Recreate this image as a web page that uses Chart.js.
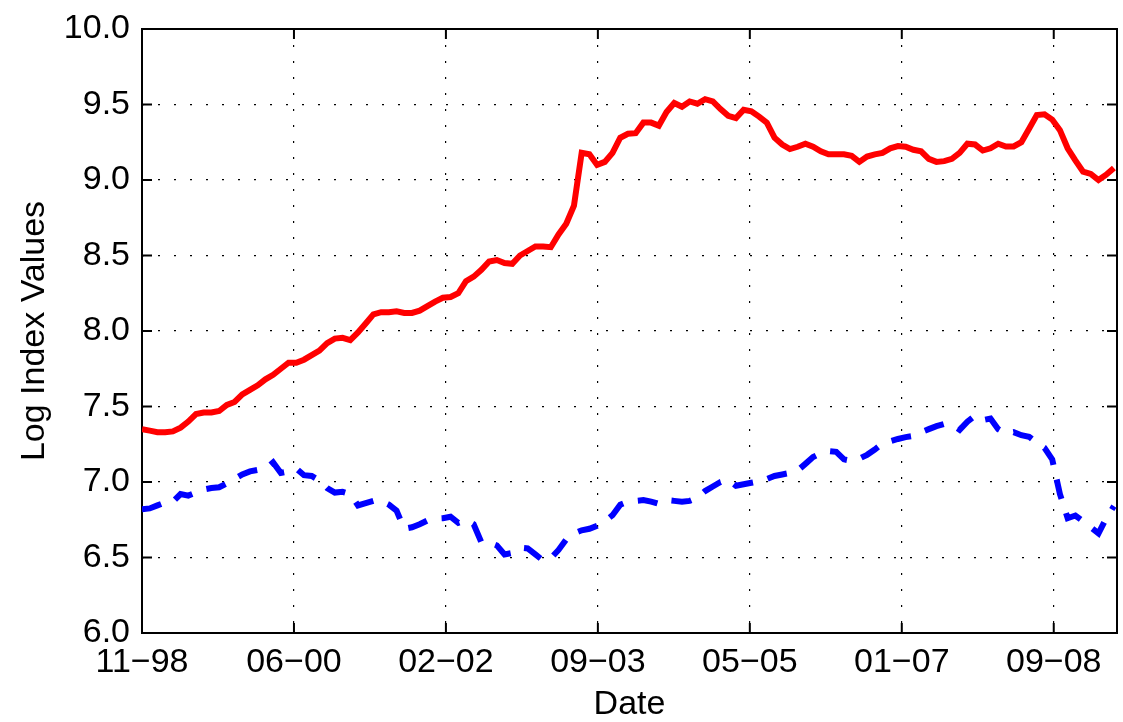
<!DOCTYPE html>
<html>
<head>
<meta charset="utf-8">
<script src="https://cdn.jsdelivr.net/npm/chart.js@4"></script>
<style>
  html, body { margin: 0; padding: 0; background: #fff; }
</style>
</head>
<body>
<canvas id="grafica" width="1123" height="722"></canvas>
<script>
// date tick labels (mm-yy), spaced evenly along the month axis
const tickLabels = ['11\u221298', '06\u221200', '02\u221202', '09\u221203', '05\u221205', '01\u221207', '09\u221208'];

// monthly log index values, Nov 1998 onwards
const logRed = [
  7.35, 7.34, 7.33, 7.33, 7.335, 7.36, 7.40, 7.45, 7.46, 7.46,
  7.47, 7.51, 7.53, 7.58, 7.61, 7.64, 7.68, 7.71, 7.75, 7.79,
  7.79, 7.81, 7.84, 7.87, 7.92, 7.95, 7.955, 7.94, 7.99, 8.05,
  8.11, 8.125, 8.125, 8.13, 8.12, 8.12, 8.135, 8.165, 8.195, 8.22,
  8.225, 8.25, 8.33, 8.36, 8.405, 8.46, 8.47, 8.45, 8.445, 8.50,
  8.53, 8.56, 8.56, 8.555, 8.64, 8.71, 8.83, 9.18, 9.17, 9.10,
  9.12, 9.18, 9.28, 9.306, 9.31, 9.38, 9.38, 9.36, 9.45, 9.51,
  9.485, 9.52, 9.505, 9.535, 9.52, 9.47, 9.425, 9.41, 9.465, 9.455,
  9.42, 9.38, 9.28, 9.235, 9.205, 9.22, 9.24, 9.22, 9.19, 9.17,
  9.17, 9.17, 9.16, 9.12, 9.155, 9.17, 9.18, 9.21, 9.225, 9.22,
  9.20, 9.19, 9.14, 9.12, 9.125, 9.14, 9.18, 9.24, 9.235, 9.195,
  9.21, 9.24, 9.222, 9.222, 9.25, 9.34, 9.43, 9.435, 9.40, 9.33,
  9.21, 9.13, 9.055, 9.04, 9.00, 9.035, 9.08
];

const logBlue = [
  6.82, 6.825, 6.845, 6.865, 6.87, 6.92, 6.91, 6.93, 6.95, 6.96,
  6.965, 6.99, 7.02, 7.05, 7.07, 7.08, 7.085, 7.13, 7.06, 7.07,
  7.09, 7.045, 7.04, 7.01, 6.96, 6.93, 6.935, 6.92, 6.845, 6.86,
  6.875, 6.875, 6.85, 6.81, 6.69, 6.70, 6.72, 6.745, 6.757, 6.76,
  6.77, 6.73, 6.75, 6.72, 6.60, 6.60, 6.58, 6.52, 6.53, 6.565,
  6.56, 6.52, 6.48, 6.495, 6.55, 6.62, 6.66, 6.68, 6.69, 6.71,
  6.74, 6.78, 6.85, 6.87, 6.875, 6.88, 6.87, 6.855, 6.88, 6.875,
  6.87, 6.875, 6.895, 6.94, 6.97, 7.00, 7.015, 6.975, 6.985, 6.995,
  7.005, 7.02, 7.04, 7.05, 7.06, 7.076, 7.12, 7.165, 7.19, 7.205,
  7.20, 7.15, 7.14, 7.155, 7.18, 7.215, 7.255, 7.27, 7.285, 7.297,
  7.305, 7.33, 7.35, 7.37, 7.385, 7.38, 7.346, 7.40, 7.44, 7.41,
  7.42, 7.35, 7.32, 7.33, 7.31, 7.30, 7.26, 7.226, 7.15, 6.92,
  6.76, 6.778, 6.74, 6.70, 6.66, 6.76, 6.84
];

const TICK_STEP = 19.7;  // months between date ticks
const X_MAX = 126.4;
const FONT = { family: '"Liberation Sans", Arial, Helvetica, sans-serif', size: 34, lineHeight: 1 };

// matlab style box with inward ticks on all four sides
const boxPlugin = {
  id: 'box',
  beforeDatasetsDraw(chart) {
    const { ctx, chartArea: a, scales: { x, y } } = chart;
    const len = 10;
    ctx.save();
    ctx.strokeStyle = '#000';
    ctx.lineWidth = 2;
    ctx.strokeRect(a.left, a.top, a.right - a.left, a.bottom - a.top);
    ctx.beginPath();
    x.ticks.forEach(t => {
      const px = x.getPixelForValue(t.value);
      ctx.moveTo(px, a.bottom); ctx.lineTo(px, a.bottom - len);
      ctx.moveTo(px, a.top); ctx.lineTo(px, a.top + len);
    });
    y.ticks.forEach(t => {
      const py = y.getPixelForValue(t.value);
      ctx.moveTo(a.left, py); ctx.lineTo(a.left + len, py);
      ctx.moveTo(a.right, py); ctx.lineTo(a.right - len, py);
    });
    ctx.stroke();
    ctx.restore();
  }
};

const toPoints = arr => arr.map((v, i) => ({ x: i, y: v }));

const ctx = document.getElementById('grafica').getContext('2d');
new Chart(ctx, {
  type: 'line',
  data: {
    datasets: [
      {
        data: toPoints(logRed),
        borderColor: '#ff0000',
        borderWidth: 6,
        pointRadius: 0,
        tension: 0,
        fill: false
      },
      {
        data: toPoints(logBlue),
        borderColor: '#0000ff',
        borderWidth: 6,
        borderDash: [20, 15],
        borderCapStyle: 'butt',
        pointRadius: 0,
        tension: 0,
        fill: false
      }
    ]
  },
  options: {
    responsive: false,
    animation: false,
    layout: { padding: { top: 28, right: 6, left: 0, bottom: 0 } },
    plugins: { legend: { display: false }, tooltip: { enabled: false } },
    scales: {
      x: {
        type: 'linear',
        min: 0,
        max: X_MAX,
        afterBuildTicks: axis => { axis.ticks = tickLabels.map((_, i) => ({ value: i * TICK_STEP })); },
        afterFit: s => { s.height = 89; },
        ticks: {
          callback: (v, i) => tickLabels[i],
          font: FONT,
          color: '#000',
          padding: 13,
          maxRotation: 0,
          autoSkip: false
        },
        grid: { color: '#000', lineWidth: 1.2, drawTicks: false },
        border: { display: false, dash: [2, 14] },
        title: { display: true, text: 'Date', font: FONT, color: '#000', padding: 0 }
      },
      y: {
        min: 6,
        max: 10,
        afterFit: s => { s.width = 142; },
        ticks: {
          stepSize: 0.5,
          callback: v => v.toFixed(1),
          font: FONT,
          color: '#000',
          padding: 12
        },
        grid: { color: '#000', lineWidth: 1.2, drawTicks: false },
        border: { display: false, dash: [2, 14] },
        title: { display: true, text: 'Log Index Values', font: FONT, color: '#000', padding: { top: 18, bottom: 0 } }
      }
    }
  },
  plugins: [boxPlugin]
});
</script>
</body>
</html>
